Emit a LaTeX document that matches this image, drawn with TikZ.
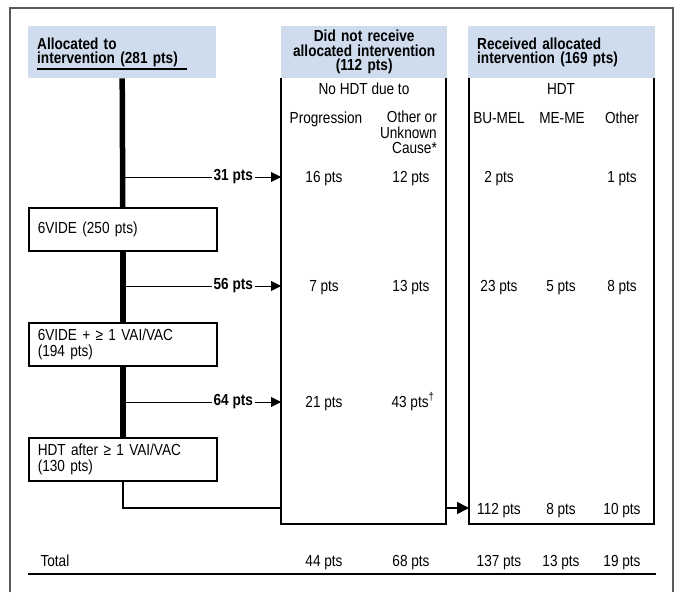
\documentclass[tikz,border=0pt]{standalone}
\usepackage{fontspec}
\setmainfont{Liberation Sans}[FakeStretch=0.85]
\usetikzlibrary{arrows.meta}
\definecolor{hdrblue}{RGB}{206,220,238}
\definecolor{framegray}{RGB}{90,90,90}

\begin{document}
\begin{tikzpicture}[x=1pt,y=-1pt,
  body/.style={font=\fontsize{16}{15.5}\selectfont},
  hdr/.style={fill=hdrblue,anchor=north west,minimum height=52pt,inner xsep=9pt,inner ysep=0pt,
    font=\fontsize{16}{14.5}\selectfont\bfseries},
  stepbox/.style={draw,line width=1.5pt,anchor=north west,minimum width=188pt,minimum height=43pt,
    text width=170pt,inner xsep=9pt,align=left,body},
  val/.style={anchor=base,body},
  branch/.style={line width=0.9pt,-{Triangle[length=10pt,width=10pt]}},
  trunk/.style={line width=5.5pt},
  panel/.style={line width=1.5pt}]
\useasboundingbox (0,0) rectangle (677,592);
\draw[framegray,line width=1.5pt] (10,592)--(10,8)--(673,8)--(673,592);
\draw[panel] (281,78)--(281,524)--(446,524)--(446,78);
\draw[panel] (469,78)--(469,524)--(654,524)--(654,78);
\node[hdr,text width=170pt,align=left] (alloc) at (28,26) {Allocated to\\intervention (281 pts)};
\draw[line width=1.5pt] (37,69)--(187,69);
\node[hdr,text width=148pt,align=center] (noRx) at (281,26) {Did not receive\\allocated intervention\\(112 pts)};
\node[hdr,text width=169pt,align=left] (rx) at (468,26) {Received allocated\\intervention (169 pts)};
\node[stepbox] (vide) at (28,207) {6VIDE (250 pts)};
\node[stepbox] (videvai) at (28,322) {6VIDE + ≥ 1 VAI/VAC\\(194 pts)};
\node[stepbox] (hdt) at (28,437) {HDT after ≥ 1 VAI/VAC\\(130 pts)};
\draw[trunk] (alloc.south)--(vide.north);
\draw[trunk] (vide.south)--(videvai.north);
\draw[trunk] (videvai.south)--(hdt.north);
\foreach \y/\n in {177/31,286/56,402/64}{
  \coordinate (from\n) at (122,\y);
  \coordinate (to\n) at (281,\y);
  \draw[branch] (from\n)--node[pos=0.7,fill=white,inner xsep=2pt,font=\fontsize{16}{15}\selectfont\bfseries] {\n\ pts} (to\n);
}
\coordinate (inA) at (281,508);
\coordinate (outA) at (446,508);
\coordinate (inB) at (469,508);
\draw[line width=1.8pt] (hdt.south) |- (inA);
\draw[line width=1.8pt,-{Triangle[length=12pt,width=12pt]}] (outA)--(inB);
\node[val] (noHDT) at (364,94) {No HDT due to};
\node[val] (prog) at (326,123) {Progression};
\node[body,anchor=north east,inner sep=0pt,align=right] (other) at (437,111) {Other or\\Unknown\\Cause*};
\node[val] (hdtlbl) at (561,94) {HDT};
\node[val] (bumel) at (499,123) {BU-MEL};
\node[val] (meme) at (562,123) {ME-ME};
\node[val] (othr) at (622,123) {Other};
\foreach \x/\y/\t [count=\i] in {324/182/16,411/182/12,499/182/2,622/182/1,
  324/291/7,411/291/13,499/291/23,561/291/5,622/291/8,324/407/21,
  499/514/112,561/514/8,622/514/10,
  324/566/44,411/566/68,499/566/137,561/566/13,622/566/19}
  \node[val] (n\i) at (\x,\y) {\t\ pts};
\node[val] (n0) at (413,407) {43 pts\textsuperscript{†}};
\node[val,anchor=base west] (total) at (37,566) {Total};
\draw[line width=1.3pt] (28,574)--(656,574);
\end{tikzpicture}
\end{document}
